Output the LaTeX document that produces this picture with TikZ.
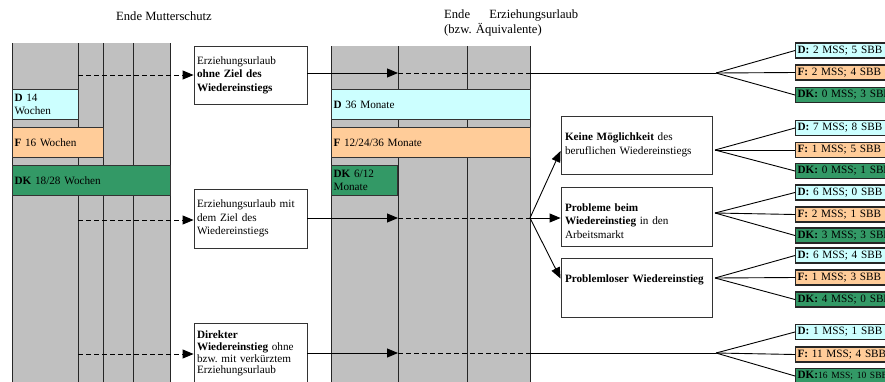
\documentclass[tikz,border=0pt]{standalone}
\usepackage{fontspec}
\setmainfont{Liberation Serif}
\usepackage{xcolor}
\usetikzlibrary{arrows.meta,positioning}
\definecolor{dcyan}{HTML}{CCFFFF}
\definecolor{forange}{HTML}{FFCC99}
\definecolor{dkgreen}{HTML}{339966}
\definecolor{blockgray}{HTML}{C0C0C0}

\begin{document}
\begin{tikzpicture}[x=1pt,y=-1pt,font=\fontsize{11.2}{13.5}\selectfont,
    >={Triangle[length=11pt,width=9pt]},
    conn/.style={line width=0.9pt},
    dashconn/.style={line width=0.9pt,dash pattern=on 5pt off 3pt},
    grid/.style={line width=1pt,draw=black!85},
    headtext/.style={font=\fontsize{12.6}{15.5}\selectfont},
    bar/.style={draw=black!80,line width=1.1pt,inner xsep=2pt,inner ysep=0pt,anchor=north west,align=left,minimum height=30pt},
    stepbox/.style={draw=black!80,line width=0.9pt,fill=white,align=left,inner xsep=3pt,inner ysep=0pt},
    res/.style={draw=black!85,line width=1.2pt,anchor=west,minimum height=15pt,inner xsep=2pt,inner ysep=0pt,text width=110pt,align=left}]
    \useasboundingbox (0,0) rectangle (885,381);
    \clip (0,0) rectangle (885,381);

    % time blocks
    \fill[blockgray] (12,43) rectangle (170,390);
    \fill[blockgray] (331,46) rectangle (530,390);
    \draw[grid] (12,43) -- (12,390);
    \draw[grid] (78,43) -- (78,390);
    \draw[grid] (103,43) -- (103,390);
    \draw[grid] (133,43) -- (133,390);
    \draw[grid] (170,43) -- (170,390);
    \draw[grid] (331,46) -- (331,390);
    \draw[grid] (398,46) -- (398,390);
    \draw[grid] (467,46) -- (467,390);
    \draw[grid] (530,46) -- (530,390);

    \node[headtext] (mutterende) at (164,16) {Ende Mutterschutz};
    \node[headtext,anchor=west,inner sep=0pt,text width=134pt,align=left] (urlaubende) at (444,23)
        {Ende\hfill Erziehungsurlaub\\(bzw.\ Äquivalente)};

    % country bars
    \node[bar,fill=dcyan,text width=62pt] (dmut) at (12,89) {\textbf{D} 14\\Wochen};
    \node[bar,fill=forange,text width=87pt] (fmut) at (12,127) {\textbf{F} 16 Wochen};
    \node[bar,fill=dkgreen,text width=154pt] (dkmut) at (12,165) {\textbf{DK} 18/28 Wochen};
    \node[bar,fill=dcyan,text width=195pt] (durl) at (331,89) {\textbf{D} 36 Monate};
    \node[bar,fill=forange,text width=195pt] (furl) at (331,127) {\textbf{F} 12/24/36 Monate};
    \node[bar,fill=dkgreen,text width=62pt] (dkurl) at (331,165) {\textbf{DK} 6/12\\Monate};

    % paths
    \node[stepbox,text width=107pt,minimum height=58pt] (urlohne) at (250.5,75)
        {Erziehungsurlaub\\\textbf{ohne Ziel des}\\\textbf{Wiedereinstiegs}};
    \node[stepbox,text width=107pt,minimum height=59pt] (urlmit) at (250.5,218.5)
        {Erziehungsurlaub mit\\dem Ziel des\\Wiedereinstiegs};
    \node[stepbox,text width=107pt,minimum height=61pt,font=\fontsize{11.2}{11.7}\selectfont] (direkt) at (250.5,353.5)
        {\textbf{Direkter}\\\textbf{Wiedereinstieg} ohne\\bzw.\ mit verkürztem\\Erziehungsurlaub};

    \node[stepbox,inner xsep=4pt,text width=143pt,minimum height=58pt] (keine) at (636.5,145)
        {\textbf{Keine Möglichkeit} des\\beruflichen Wiedereinstiegs};
    \node[stepbox,inner xsep=4pt,text width=143pt,minimum height=59pt] (probl) at (636.5,216.5)
        {\rule{0pt}{17pt}\textbf{Probleme beim}\\\textbf{Wiedereinstieg} in den\\Arbeitsmarkt};
    \node[stepbox,inner xsep=4pt,text width=143pt,minimum height=59pt] (probfrei) at (636.5,287.5)
        {\textbf{Problemloser Wiedereinstieg}\\\strut};

    % results
    \node[res,fill=dcyan] (d1) at (795,50.5) {\textbf{D:} 2 MSS; 5 SBB};
    \node[res,fill=forange] (f1) at (795,72.5) {\textbf{F:} 2 MSS; 4 SBB};
    \node[res,fill=dkgreen] (k1) at (795,95) {\textbf{DK:} 0 MSS; 3 SBB};
    \node[res,fill=dcyan] (d2) at (795,128) {\textbf{D:} 7 MSS; 8 SBB};
    \node[res,fill=forange] (f2) at (795,150) {\textbf{F:} 1 MSS; 5 SBB};
    \node[res,fill=dkgreen] (k2) at (795,171) {\textbf{DK:} 0 MSS; 1 SBB};
    \node[res,fill=dcyan] (d3) at (795,192.5) {\textbf{D:} 6 MSS; 0 SBB};
    \node[res,fill=forange] (f3) at (795,214.5) {\textbf{F:} 2 MSS; 1 SBB};
    \node[res,fill=dkgreen] (k3) at (795,235.5) {\textbf{DK:} 3 MSS; 3 SBB};
    \node[res,fill=dcyan] (d4) at (795,255.5) {\textbf{D:} 6 MSS; 4 SBB};
    \node[res,fill=forange] (f4) at (795,277.5) {\textbf{F:} 1 MSS; 3 SBB};
    \node[res,fill=dkgreen] (k4) at (795,299.5) {\textbf{DK:} 4 MSS; 0 SBB};
    \node[res,fill=dcyan] (d5) at (795,332) {\textbf{D:} 1 MSS; 1 SBB};
    \node[res,fill=forange] (f5) at (795,354.5) {\textbf{F:} 11 MSS; 4 SBB};
    \node[res,fill=dkgreen] (k5) at (795,376) {\textbf{DK:}{\fontsize{9.5}{10}\selectfont 16 MSS; 10 SBB}};

    \coordinate (s1) at (78,75);
    \coordinate (m1) at (398,73);
    \coordinate (r1) at (530,73);
    \coordinate (s2) at (78,220);
    \coordinate (m2) at (398,218);
    \coordinate (r2) at (530,218);
    \coordinate (s3) at (78,354);
    \coordinate (m3) at (398,353);
    \coordinate (r3) at (530,353);
    \coordinate (b1) at (716,73);
    \coordinate (b2) at (715,150);
    \coordinate (b3) at (715,213);
    \coordinate (b4) at (715,278);
    \coordinate (b5) at (716,353);

    % first row
    \draw[dashconn,->] (s1) -- (s1 -| urlohne.west);
    \draw[conn,->] (urlohne.east |- m1) -- (m1);
    \draw[dashconn] (m1) -- (r1);
    \draw[conn] (r1) -- (b1);
    \draw[conn] (b1) -- (d1.west);
    \draw[conn] (b1) -- (f1.west);
    \draw[conn] (b1) -- (k1.west);

    % second row
    \draw[dashconn,->] (s2) -- (s2 -| urlmit.west);
    \draw[conn,->] (urlmit.east |- m2) -- (m2);
    \draw[dashconn] (m2) -- (r2);
    \draw[conn,->] (r2) -- ([yshift=-6pt]keine.west);
    \draw[conn,->] (r2) -- (r2 -| probl.west);
    \draw[conn,->] (r2) -- ([yshift=9pt]probfrei.west);
    \draw[conn] (b2) -- (d2.west);
    \draw[conn] (b2) -- (f2.west);
    \draw[conn] (b2) -- (k2.west);
    \draw[conn] (b3) -- (d3.west);
    \draw[conn] (b3) -- (f3.west);
    \draw[conn] (b3) -- (k3.west);
    \draw[conn] (b4) -- (d4.west);
    \draw[conn] (b4) -- (f4.west);
    \draw[conn] (b4) -- (k4.west);

    % third row
    \draw[dashconn,->] (s3) -- (s3 -| direkt.west);
    \draw[conn,->] (direkt.east |- m3) -- (m3);
    \draw[dashconn] (m3) -- (r3);
    \draw[conn] (r3) -- (b5);
    \draw[conn] (b5) -- (d5.west);
    \draw[conn] (b5) -- (f5.west);
    \draw[conn] (b5) -- (k5.west);
\end{tikzpicture}
\end{document}
